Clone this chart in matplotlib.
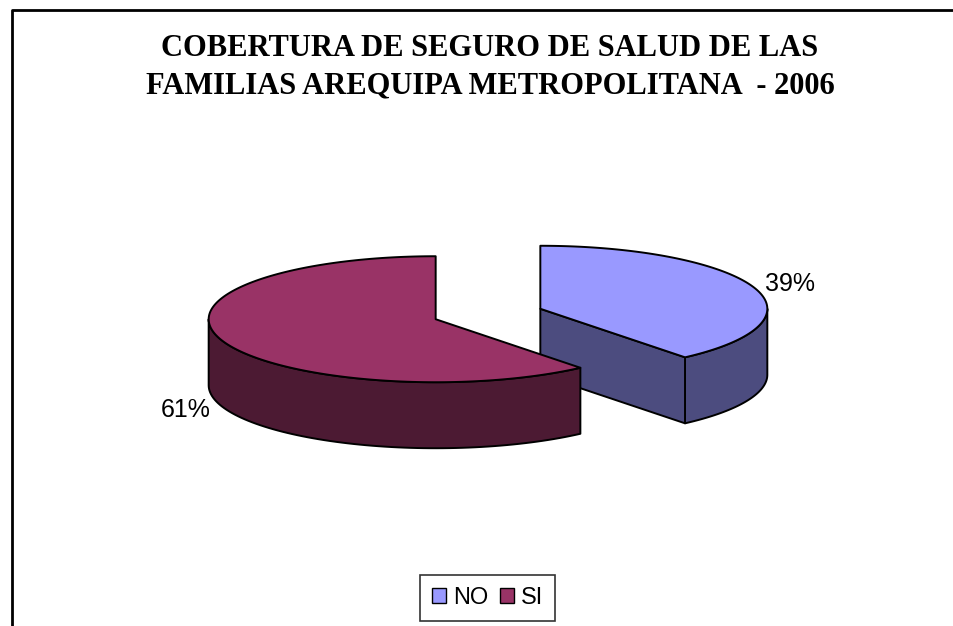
import numpy as np
import matplotlib
matplotlib.use("Agg")
import matplotlib.pyplot as plt
from matplotlib.patches import Polygon, Patch

# data
labels = ["NO", "SI"]
values = [39, 61]
top_colors = ["#9999FF", "#993366"]
side_colors = ["#4C4C7F", "#4C1A33"]

title = "COBERTURA DE SEGURO DE SALUD DE LAS\nFAMILIAS AREQUIPA METROPOLITANA  - 2006"

# pie layout (pixel space of the 954x626 canvas)
CX, CY = 488, 314      # centre of the un-exploded pie
RX, RY = 227, 63       # ellipse radii of the top face
DEPTH = 66             # height of the pie wall
EXPLODE = 0.245        # fraction of the radius each slice is pulled out
LABEL_R = 1.17

fig = plt.figure(figsize=(9.54, 6.26), dpi=100)
ax = fig.add_axes([0, 0, 1, 1])
ax.set_xlim(0, 954)
ax.set_ylim(626, 0)
ax.axis("off")

# chart frame (cut off on the right and bottom like the original)
ax.plot([12, 12, 960], [640, 10, 10], color="black", lw=2, solid_capstyle="butt")

ax.text(490, 67, title, ha="center", va="center", fontsize=22,
        family="Liberation Serif", fontweight="bold", linespacing=1.4)


def pt(sx, sy, t, dz=0.0):
    t = np.radians(t)
    return sx + RX * np.sin(t), sy - RY * np.cos(t) + dz


total = float(sum(values))
start = 0.0
slices = []
for v in values:
    sweep = 360.0 * v / total
    slices.append((start, start + sweep))
    start += sweep

edge_kw = dict(edgecolor="black", linewidth=1.4, joinstyle="round")

# back slice first (NO sits further back), then the front one
for i, (a0, a1) in enumerate(slices):
    mid = 0.5 * (a0 + a1)
    ox = EXPLODE * RX * np.sin(np.radians(mid))
    oy = -EXPLODE * RY * np.cos(np.radians(mid))
    sx, sy = CX + ox, CY + oy

    # outer wall, visible on the front half of the ellipse
    ta, tb = max(a0, 90.0), min(a1, 270.0)
    if tb > ta:
        ts = np.linspace(ta, tb, 80)
        upper = [pt(sx, sy, t) for t in ts]
        lower = [pt(sx, sy, t, DEPTH) for t in ts[::-1]]
        ax.add_patch(Polygon(upper + lower, closed=True,
                             facecolor=side_colors[i], **edge_kw))

    # radial cut faces that turn towards the viewer
    for ang, normal in ((a0, a0 - 90.0), (a1, a1 + 90.0)):
        if np.cos(np.radians(normal)) < -1e-6:
            ex, ey = pt(sx, sy, ang)
            face = [(sx, sy), (ex, ey), (ex, ey + DEPTH), (sx, sy + DEPTH)]
            ax.add_patch(Polygon(face, closed=True,
                                 facecolor=side_colors[i], **edge_kw))

    # top face
    ts = np.linspace(a0, a1, 160)
    top = [(sx, sy)] + [pt(sx, sy, t) for t in ts]
    ax.add_patch(Polygon(top, closed=True, facecolor=top_colors[i], **edge_kw))

    # percentage label
    lx = sx + LABEL_R * RX * np.sin(np.radians(mid))
    ly = sy - LABEL_R * RY * np.cos(np.radians(mid))
    if np.cos(np.radians(mid)) < 0:
        ly += DEPTH
    ax.text(lx, ly, f"{values[i] / total:.0%}", ha="center", va="center",
            fontsize=18, family="Liberation Sans")

handles = [Patch(facecolor=c, edgecolor="black", linewidth=1.0) for c in top_colors]
leg = fig.legend(handles, labels, loc="center", bbox_to_anchor=(0.511, 0.045),
                 ncol=2, frameon=True, fancybox=False, shadow=False,
                 prop={"family": "Liberation Sans", "size": 17},
                 handlelength=0.6, handleheight=0.6, handletextpad=0.3,
                 columnspacing=0.5, borderpad=0.5, borderaxespad=0)
leg.get_frame().set_edgecolor("black")
leg.get_frame().set_linewidth(1.2)

fig.savefig("out.png", dpi=100)
